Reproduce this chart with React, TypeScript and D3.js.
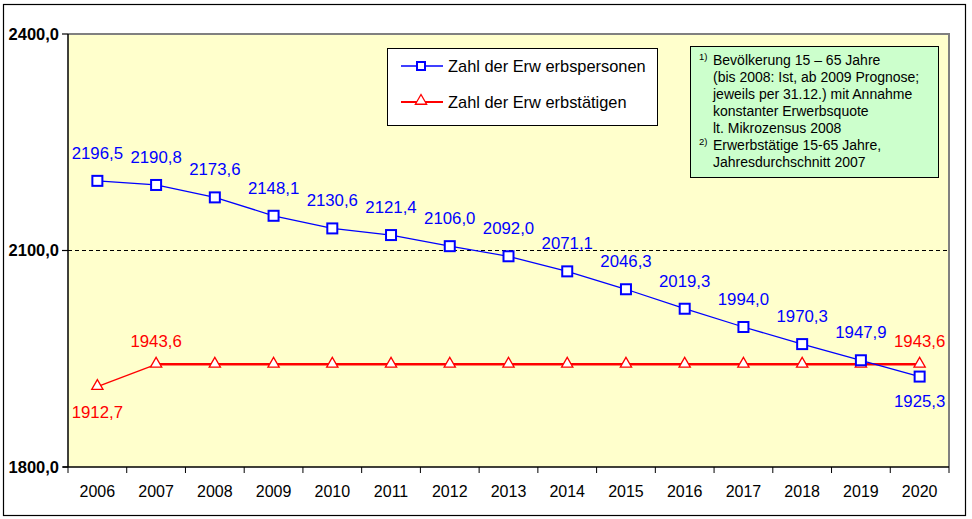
import React from "react";
import * as d3 from "d3";

const years = ["2006","2007","2008","2009","2010","2011","2012","2013","2014","2015","2016","2017","2018","2019","2020"];
const erwerbspersonen = [2196.5,2190.8,2173.6,2148.1,2130.6,2121.4,2106.0,2092.0,2071.1,2046.3,2019.3,1994.0,1970.3,1947.9,1925.3];
const erwerbstaetige = [1912.7,1943.6,1943.6,1943.6,1943.6,1943.6,1943.6,1943.6,1943.6,1943.6,1943.6,1943.6,1943.6,1943.6,1943.6];
const yTicks = [1800, 2100, 2400];
const blueLabelBelow = [14];
const redLabelShown = [0, 1, 14];
const redLabelBelow = [0];
const legendLabels = ["Zahl der Erw erbspersonen", "Zahl der Erw erbstätigen"];
const noteLines = [
  { sup: "1)", text: "Bevölkerung 15 – 65 Jahre" },
  { sup: "", text: "(bis 2008: Ist, ab 2009 Prognose;" },
  { sup: "", text: "jeweils per 31.12.) mit Annahme" },
  { sup: "", text: "konstanter Erwerbsquote" },
  { sup: "", text: "lt. Mikrozensus 2008" },
  { sup: "2)", text: "Erwerbstätige 15-65 Jahre," },
  { sup: "", text: "Jahresdurchschnitt 2007" },
];

const fmt = (v: number) => v.toFixed(1).replace(".", ",");

export default function App() {
  const W = 972, H = 519;
  const L = 68, R = 949, T = 34, B = 467;
  const x = d3.scaleBand<string>().domain(years).range([L, R]);
  const y = d3.scaleLinear().domain([1800, 2400]).range([B, T]);
  const cx = (i: number) => (x(years[i]) as number) + x.bandwidth() / 2;
  const font = "'Liberation Sans', Arial, sans-serif";
  const blue = "#0000ff";
  const red = "#ff0000";

  const lineGen = d3.line<number>().x((_, i) => cx(i)).y((d) => y(d));
  const redLine = d3.line<[number, number]>().x((d) => cx(d[0])).y((d) => y(d[1]) + 1);
  const redFirst = redLine([[0, erwerbstaetige[0]], [1, erwerbstaetige[1]]]);
  const redRest = redLine(erwerbstaetige.slice(1).map((v, i) => [i + 1, v] as [number, number]));
  const tri = d3.symbol().type(d3.symbolTriangle).size(55)();

  return (
    <svg width={W} height={H} style={{ position: "absolute", left: 0, top: 0, fontFamily: font }}>
      <rect x={0} y={0} width={W} height={H} fill="#fff" />
      <rect x={3.5} y={4.5} width={962} height={511} fill="#fff" stroke="#000" strokeWidth={1.2} />
      <rect x={L} y={T} width={R - L} height={B - T} fill="#ffffcc" />
      <path d={`M${L},${T} H${R} V${B}`} fill="none" stroke="#808080" strokeWidth={2} />
      <line x1={L} x2={R} y1={y(2100)} y2={y(2100)} stroke="#000" strokeDasharray="4,3" strokeWidth={1} />
      <line x1={L} x2={L} y1={T} y2={B} stroke="#000" strokeWidth={1.5} />
      <line x1={L - 5} x2={R} y1={B} y2={B} stroke="#000" strokeWidth={1.5} />
      {yTicks.map((t) => (
        <g key={t}>
          <line x1={L - 6} x2={L} y1={y(t)} y2={y(t)} stroke="#000" strokeWidth={1.2} />
          <text x={L - 9} y={y(t)} dy="0.35em" textAnchor="end" fontSize={16.5} fontWeight="bold" fill="#000">{fmt(t)}</text>
        </g>
      ))}
      {years.map((yr, i) => (
        <g key={yr}>
          <line x1={(x(yr) as number)} x2={(x(yr) as number)} y1={B} y2={B + 6} stroke="#000" strokeWidth={1} />
          <text x={cx(i)} y={B + 30} textAnchor="middle" fontSize={16} fill="#000">{yr}</text>
        </g>
      ))}
      <line x1={R} x2={R} y1={B} y2={B + 6} stroke="#000" strokeWidth={1} />

      <path d={redFirst || ""} fill="none" stroke={red} strokeWidth={1.3} />
      <path d={redRest || ""} fill="none" stroke={red} strokeWidth={2.5} />
      <path d={lineGen(erwerbspersonen) || ""} fill="none" stroke={blue} strokeWidth={1.3} />
      {erwerbstaetige.map((v, i) => (
        <path key={"t" + i} d={tri || ""} transform={`translate(${cx(i)},${y(v) + 0.5})`} fill="#fff" stroke={red} strokeWidth={1.3} />
      ))}
      {erwerbspersonen.map((v, i) => (
        <rect key={"s" + i} x={cx(i) - 5} y={y(v) - 5} width={10} height={10} fill="#fff" stroke={blue} strokeWidth={2} />
      ))}
      {erwerbspersonen.map((v, i) => (
        <text key={"bl" + i} x={cx(i)} y={y(v) + (blueLabelBelow.includes(i) ? 25 : -28)} dy="0.35em" textAnchor="middle" fontSize={16.8} fill={blue}>{fmt(v)}</text>
      ))}
      {redLabelShown.map((i) => (
        <text key={"rl" + i} x={cx(i)} y={y(erwerbstaetige[i]) + (redLabelBelow.includes(i) ? 26 : -22)} dy="0.35em" textAnchor="middle" fontSize={16.8} fill={red}>{fmt(erwerbstaetige[i])}</text>
      ))}

      <rect x={387.5} y={48.5} width={270} height={77} fill="#fff" stroke="#000" strokeWidth={1} />
      {legendLabels.map((lab, i) => {
        const ly = 66 + i * 36;
        return (
          <g key={lab}>
            <line x1={401} x2={443} y1={ly} y2={ly} stroke={i === 0 ? blue : red} strokeWidth={i === 0 ? 1.3 : 2} />
            {i === 0 ? (
              <rect x={417} y={ly - 4} width={8} height={8} fill="#fff" stroke={blue} strokeWidth={2} />
            ) : (
              <path d={tri || ""} transform={`translate(421,${ly - 1})`} fill="#fff" stroke={red} strokeWidth={1.3} />
            )}
            <text x={448} y={ly} dy="0.35em" fontSize={16.4} fill="#000">{lab}</text>
          </g>
        );
      })}

      <rect x={690.5} y={46.5} width={248} height={131} fill="#ccffcc" stroke="#000" strokeWidth={1} />
      {noteLines.map((ln, i) => (
        <g key={i}>
          {ln.sup && (
            <text x={699} y={60 + i * 17 - 3} dy="0.35em" fontSize={9.5} fill="#000">{ln.sup}</text>
          )}
          <text x={713} y={60 + i * 17} dy="0.35em" fontSize={14} fill="#000">{ln.text}</text>
        </g>
      ))}
    </svg>
  );
}
